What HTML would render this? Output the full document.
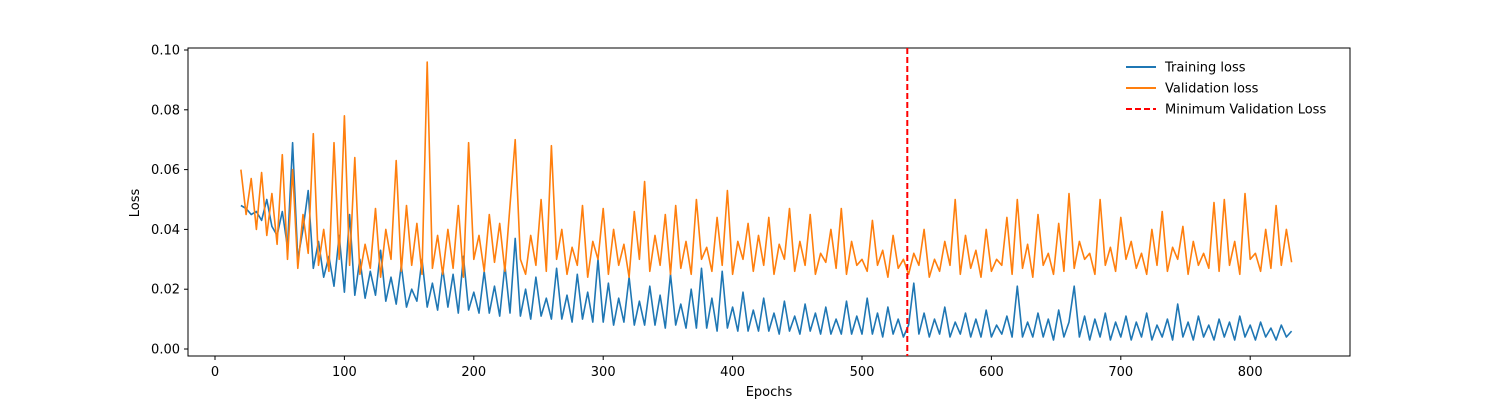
<!DOCTYPE html>
<html><head><meta charset="utf-8"><style>
body{margin:0;background:#fff;}
svg{font-family:"DejaVu Sans","Liberation Sans",sans-serif;}
</style></head><body>
<svg id="chart" width="1500" height="400">
<rect x="188" y="48" width="1162" height="308" fill="none" stroke="#000" stroke-width="1"/>
<g id="ticks"></g>
<g id="lines"></g>
<text x="769" y="396" text-anchor="middle" font-size="13">Epochs</text>
<text transform="translate(139,203) rotate(-90)" text-anchor="middle" font-size="13">Loss</text>
<g>
<g><line x1="1126" y1="67" x2="1156" y2="67" stroke="#1f77b4" stroke-width="2"/><text x="1165" y="71.5" font-size="13">Training loss</text></g>
<g><line x1="1126" y1="88" x2="1156" y2="88" stroke="#ff7f0e" stroke-width="2"/><text x="1165" y="92.5" font-size="13">Validation loss</text></g>
<g><line x1="1126" y1="109" x2="1156" y2="109" stroke="red" stroke-width="2" stroke-dasharray="6,3"/><text x="1165" y="113.5" font-size="13">Minimum Validation Loss</text></g>
</g>
</svg>
<script>
const startEpoch = 20;
const epochStep = 4;
const minValEpoch = 535;
const xTicks = [0,100,200,300,400,500,600,700,800];
const yTicks = [0.00,0.02,0.04,0.06,0.08,0.10];
const trainLoss = [.048,.047,.045,.046,.043,.050,.041,.038,.046,.034,
.069,.030,.040,.053,.027,.036,.024,.031,.021,.038,
.019,.045,.018,.030,.017,.026,.018,.033,.016,.024,
.015,.028,.014,.020,.016,.030,.014,.022,.013,.027,
.014,.025,.012,.031,.013,.019,.012,.026,.012,.021,
.011,.028,.012,.037,.011,.020,.010,.024,.011,.017,
.010,.027,.010,.018,.009,.025,.010,.019,.009,.030,
.009,.022,.008,.017,.009,.024,.008,.016,.008,.021,
.008,.018,.007,.025,.008,.015,.007,.020,.007,.027,
.007,.017,.006,.026,.007,.014,.006,.019,.006,.013,
.006,.017,.006,.012,.005,.016,.006,.011,.005,.015,
.006,.012,.005,.014,.005,.010,.005,.016,.005,.011,
.005,.017,.005,.012,.004,.014,.005,.010,.004,.008,
.022,.005,.012,.004,.010,.005,.014,.004,.009,.005,
.012,.004,.010,.004,.013,.004,.008,.005,.011,.004,
.021,.004,.009,.004,.012,.004,.010,.003,.013,.004,
.009,.021,.004,.011,.003,.010,.004,.012,.003,.009,
.004,.011,.003,.009,.004,.012,.003,.008,.004,.010,
.003,.015,.004,.009,.003,.011,.004,.008,.003,.010,
.004,.009,.003,.011,.004,.008,.003,.009,.004,.007,
.003,.008,.004,.006];
const valLoss = [.060,.045,.057,.040,.059,.038,.052,.035,.065,.030,
.060,.027,.045,.032,.072,.028,.040,.026,.069,.030,
.078,.028,.064,.025,.035,.027,.047,.024,.040,.030,
.063,.026,.048,.028,.042,.025,.096,.027,.038,.025,
.040,.027,.048,.024,.069,.030,.038,.026,.045,.029,
.042,.026,.048,.070,.030,.025,.038,.028,.050,.026,
.068,.030,.040,.025,.034,.028,.048,.024,.036,.030,
.047,.025,.040,.028,.035,.024,.046,.030,.056,.026,
.038,.028,.045,.025,.048,.027,.036,.025,.050,.030,
.034,.026,.044,.028,.053,.025,.036,.030,.042,.026,
.038,.028,.044,.025,.035,.030,.047,.026,.036,.028,
.045,.025,.032,.029,.040,.027,.047,.025,.036,.028,
.030,.026,.043,.028,.033,.024,.038,.027,.030,.025,
.032,.028,.040,.024,.030,.026,.036,.028,.050,.025,
.038,.027,.033,.024,.040,.026,.030,.028,.044,.025,
.050,.027,.035,.024,.045,.028,.032,.025,.042,.026,
.052,.027,.036,.030,.032,.025,.050,.028,.034,.026,
.044,.030,.036,.027,.032,.025,.040,.028,.046,.026,
.034,.030,.041,.025,.036,.028,.032,.027,.049,.026,
.050,.028,.036,.025,.052,.030,.032,.026,.040,.027,
.048,.028,.040,.029];

const NS='http://www.w3.org/2000/svg';
function xs(e){return 215+e*1.294;}
function ys(v){return 349-v*2990;}
const tg=document.getElementById('ticks'), lg=document.getElementById('lines');
function mk(t,a,p){const el=document.createElementNS(NS,t);for(const k in a)el.setAttribute(k,a[k]);p.appendChild(el);return el;}
xTicks.forEach(t=>{
  const l=mk('line',{x1:xs(t),x2:xs(t),y1:356,y2:360,stroke:'#000'},tg);
  
  
  const tx=mk('text',{x:xs(t),y:376,'text-anchor':'middle','font-size':13},tg);
  tx.textContent=t;
  
  
});
yTicks.forEach(t=>{
  const l=mk('line',{x1:184,x2:188,y1:ys(t),y2:ys(t),stroke:'#000'},tg);
  
  
  const tx=mk('text',{x:180,y:ys(t)+4.5,'text-anchor':'end','font-size':13},tg);
  tx.textContent=t.toFixed(2);
  
  
});
function series(arr,color,name){
  const d=arr.map((v,i)=>(i?'L':'M')+xs(startEpoch+i*epochStep).toFixed(1)+','+ys(v).toFixed(1)).join('');
  const p=mk('path',{d:d,fill:'none',stroke:color,'stroke-width':1.6,'stroke-linejoin':'round'},lg);
  
  
}
series(trainLoss,'#1f77b4','training-loss-line');
series(valLoss,'#ff7f0e','validation-loss-line');
const ml=mk('line',{x1:xs(minValEpoch),x2:xs(minValEpoch),y1:48,y2:356,stroke:'red','stroke-width':2,'stroke-dasharray':'6,3'},lg);


</script>
</body></html>
